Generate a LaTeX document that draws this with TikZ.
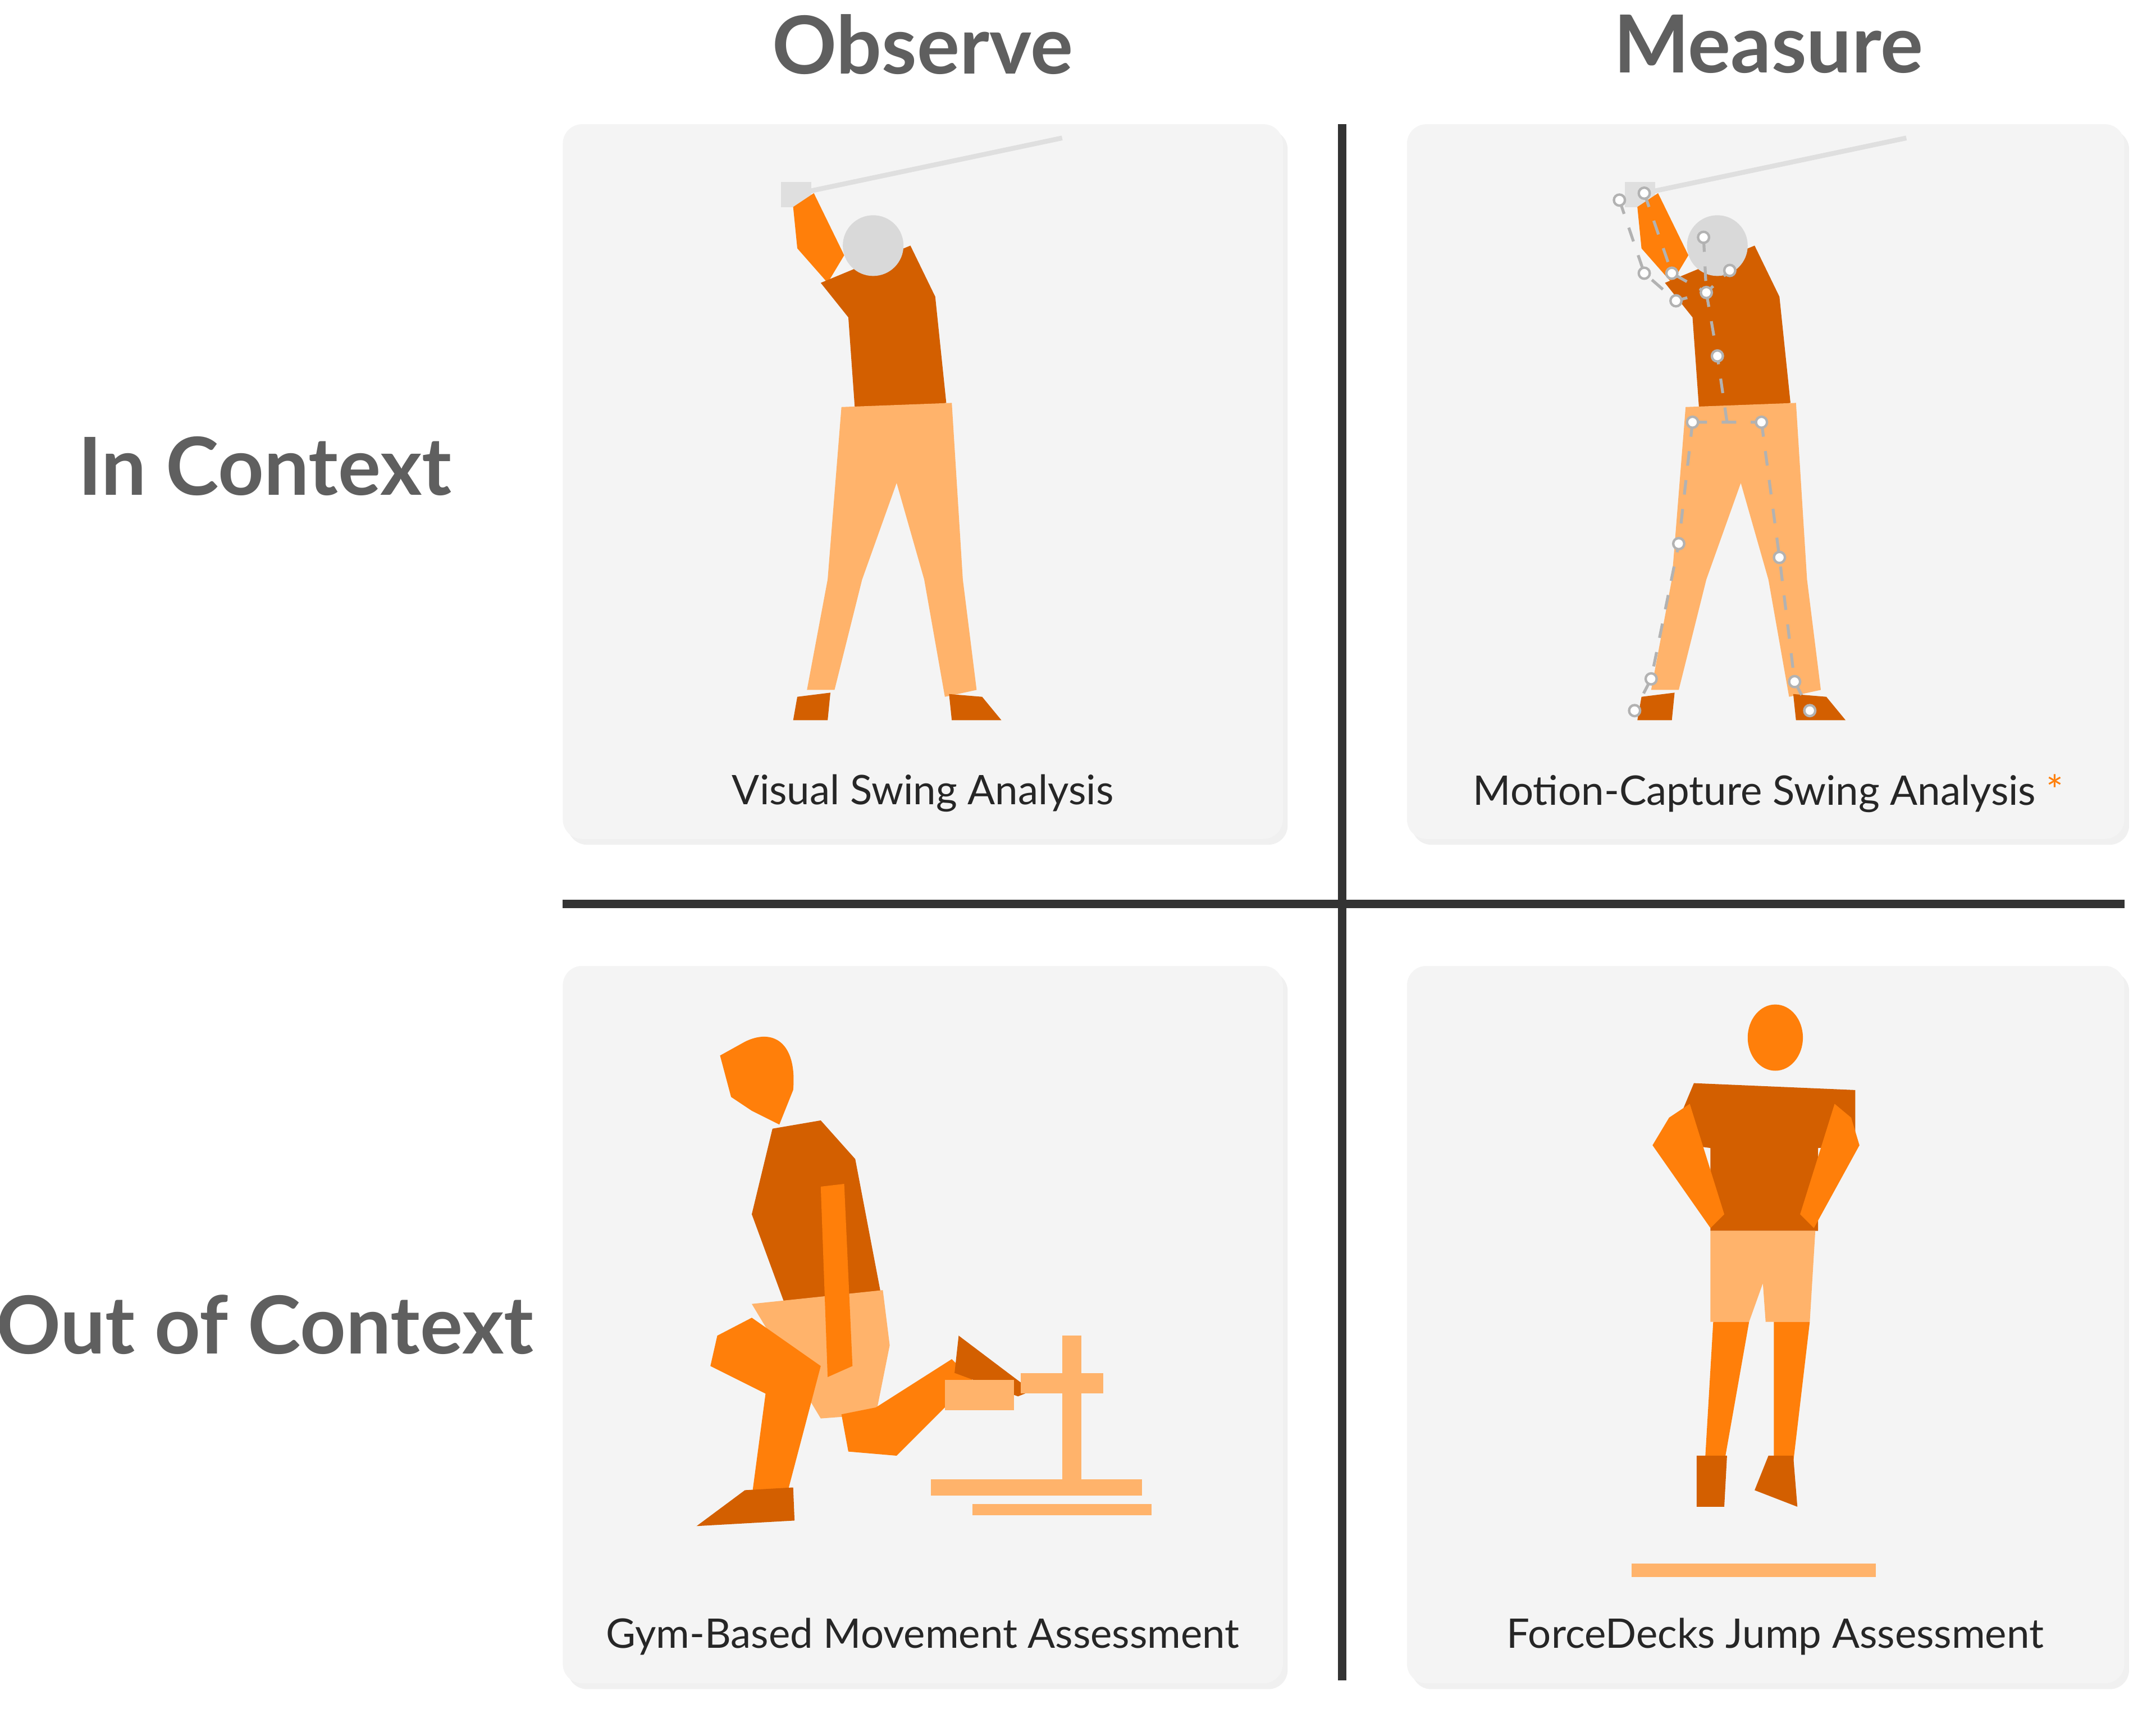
\documentclass[tikz,border=0pt]{standalone}
\usepackage{fontspec}
\setmainfont{Lato}
\usetikzlibrary{shadows,positioning}
\definecolor{headgray}{HTML}{5F5F5F}
\definecolor{panelgray}{HTML}{F4F4F4}
\definecolor{darkorange}{HTML}{D35F00}
\definecolor{midorange}{HTML}{FF7F0A}
\definecolor{lightorange}{HTML}{FFB36B}
\definecolor{rulegray}{HTML}{333333}
\newcommand{\golfer}{%
    % club and hands
    \draw[gray!25, line width=1pt] (580,140) -- (770,100);
    \fill[gray!25] (566,132) rectangle (588,150);
    % arms
    \fill[midorange] (575,150) -- (590,140) -- (612,185) -- (600,205) -- (578,180) -- cycle;
    % torso
    \fill[darkorange] (595,205) -- (660,178) -- (678,215) -- (686,292) -- (620,300) -- (615,230) -- cycle;
    % head
    \fill[gray!30] (633,178) circle (22);
    % pants
    \fill[lightorange] (610,295) -- (690,292) -- (698,420) -- (708,500) -- (685,505) -- (670,420) -- (650,350) -- (625,420) -- (605,500) -- (585,500) -- (600,420) -- cycle;
    % shoes
    \fill[darkorange] (578,505) -- (602,502) -- (600,522) -- (575,522) -- cycle;
    \fill[darkorange] (688,503) -- (712,505) -- (726,522) -- (690,522) -- cycle;
}
\begin{document}
\begin{tikzpicture}[x=0.01cm, y=-0.01cm,
    % stili
    header/.style={font=\fontsize{16.5}{20}\selectfont\bfseries, text=headgray},
    caption/.style={font=\fontsize{8.4}{10}\selectfont, text=black!85},
    panel/.style={fill=panelgray, draw=none, rounded corners=4pt,
        drop shadow={shadow xshift=1pt, shadow yshift=-1.2pt, opacity=0.12}},
    divider/.style={draw=rulegray, line width=1.7pt}
]
\useasboundingbox (0,0) rectangle (1563,1245);

% Intestazioni
\node[header] (observe) at (669,32) {Observe};
\node[header] (measure) at (1282,32) {Measure};
\node[header] (incontext) at (192,338) {In Context};
\node[header] (outcontext) at (192,960) {Out of Context};

% Pannelli
\fill[panel] (408,90) rectangle (930,608);
\fill[panel] (1020,90) rectangle (1540,608);
\fill[panel] (408,700) rectangle (930,1220);
\fill[panel] (1020,700) rectangle (1540,1220);

% Divisori
\coordinate (vtop) at (973,90);
\coordinate (vbot) at (973,1218);
\coordinate (hleft) at (408,655);
\coordinate (hright) at (1540,655);
\draw[divider] (vtop) -- (vbot);
\draw[divider] (hleft) -- (hright);

% Golfista (osservazione)
\begin{scope}
    \golfer
\end{scope}

% Golfista con marker
\begin{scope}[shift={(612,0)}]
    \golfer
    \draw[gray!60, dashed, line width=0.6pt] (562,145) -- (580,198) -- (603,218) -- (625,212) -- (642,196)
        (625,212) -- (633,258) -- (640,306) (615,306) -- (665,306)
        (615,306) -- (605,394) -- (585,492) -- (573,515)
        (665,306) -- (678,404) -- (689,494) -- (700,515)
        (580,140) -- (600,198) -- (625,212) (623,172) -- (625,212);
    \foreach \p in {(562,145),(580,140),(580,198),(600,198),(603,218),(625,212),(642,196),(623,172),(633,258),(615,306),(665,306),(605,394),(678,404),(585,492),(689,494),(573,515),(700,515)}
        \filldraw[fill=white, draw=gray!60, line width=0.5pt] \p circle (4);
\end{scope}

% Affondo
\fill[midorange] (540,755) .. controls (560,745) and (578,755) .. (575,790) -- (565,815) -- (545,805) -- (530,795) -- (522,765) -- cycle;
\fill[darkorange] (560,818) -- (595,812) -- (620,840) -- (640,945) -- (570,948) -- (545,880) -- cycle;
\fill[lightorange] (545,945) -- (640,935) -- (645,975) -- (635,1025) -- (595,1028) -- cycle;
\fill[midorange] (520,968) -- (545,955) -- (595,990) -- (570,1085) -- (545,1085) -- (555,1010) -- (515,990) -- cycle;
\fill[darkorange] (540,1080) -- (575,1078) -- (576,1102) -- (505,1106) -- cycle;
\fill[midorange] (610,1025) -- (635,1020) -- (690,985) -- (705,1000) -- (650,1055) -- (615,1052) -- cycle;
\fill[darkorange] (695,968) -- (748,1008) -- (738,1012) -- (692,995) -- cycle;
\fill[midorange] (595,860) -- (612,858) -- (618,990) -- (600,998) -- cycle;
\fill[lightorange] (685,1000) rectangle (735,1022);
\fill[lightorange] (770,968) rectangle (784,1072);
\fill[lightorange] (740,995) rectangle (800,1010);
\fill[lightorange] (675,1072) rectangle (828,1084);
\fill[lightorange] (705,1090) rectangle (835,1098);

% Salto
\fill[midorange] (1287,752) ellipse (20 and 24);
\fill[darkorange] (1228,785) -- (1345,790) -- (1345,830) -- (1318,832) -- (1318,892) -- (1240,892) -- (1240,832) -- (1210,828) -- cycle;
\fill[midorange] (1210,810) -- (1225,800) -- (1250,880) -- (1240,890) -- (1198,830) -- cycle;
\fill[midorange] (1342,810) -- (1330,800) -- (1305,880) -- (1315,890) -- (1348,830) -- cycle;
\fill[lightorange] (1240,892) -- (1316,892) -- (1312,958) -- (1280,958) -- (1278,930) -- (1268,958) -- (1240,958) -- cycle;
\fill[midorange] (1242,958) -- (1268,958) -- (1250,1060) -- (1236,1060) -- cycle;
\fill[midorange] (1286,958) -- (1312,958) -- (1300,1060) -- (1286,1058) -- cycle;
\fill[darkorange] (1230,1055) -- (1252,1055) -- (1250,1092) -- (1230,1092) -- cycle;
\fill[darkorange] (1282,1055) -- (1300,1055) -- (1303,1092) -- (1272,1080) -- cycle;
\fill[lightorange] (1183,1133) rectangle (1360,1143);

% Didascalie
\node[caption] (cap1) at (669,575) {Visual Swing Analysis};
\node[caption] (cap2) at (1282,575) {Motion-Capture Swing Analysis \textcolor{midorange}{*}};
\node[caption] (cap3) at (669,1186) {Gym-Based Movement Assessment};
\node[caption] (cap4) at (1287,1186) {ForceDecks Jump Assessment};
\end{tikzpicture}
\end{document}
